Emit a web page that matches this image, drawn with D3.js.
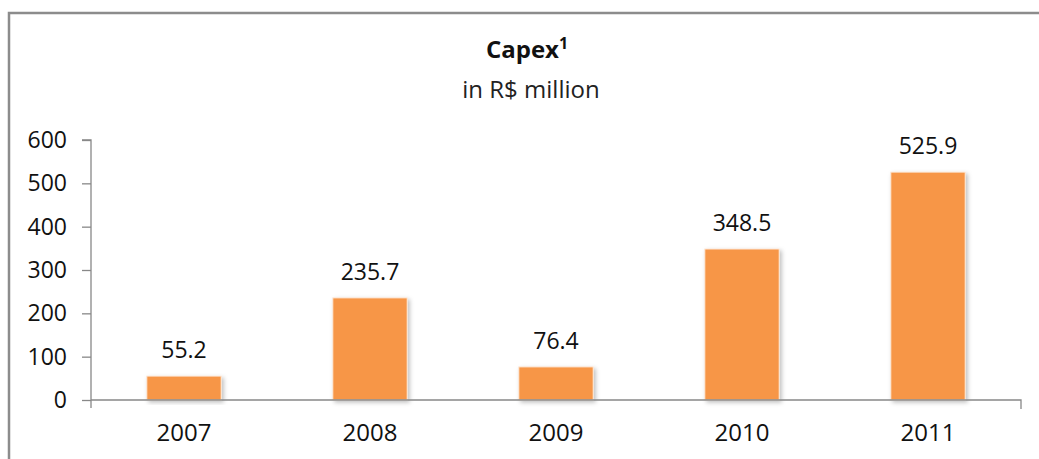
<!DOCTYPE html>
<html>
<head>
<meta charset="utf-8">
<script src="https://cdn.jsdelivr.net/npm/d3@7"></script>
<style>
  body { margin: 0; background: #fff; }
  svg { display: block; }
</style>
</head>
<body>
<div id="chart"></div>
<script>
// chart values
var years = ['2007', '2008', '2009', '2010', '2011'];
var capex = [55.2, 235.7, 76.4, 348.5, 525.9];
var yTicks = [0, 100, 200, 300, 400, 500, 600];

var W = 1039, H = 459;
var margin = { top: 140, right: 18, bottom: 59, left: 91 };
var width = W - margin.left - margin.right;
var height = H - margin.top - margin.bottom;

var svg = d3.select('#chart').append('svg')
    .attr('width', W)
    .attr('height', H);

var defs = svg.append('defs');
var shadow = defs.append('filter').attr('id', 'shadow')
    .attr('x', '-20%').attr('y', '-20%').attr('width', '140%').attr('height', '140%');
shadow.append('feDropShadow')
    .attr('dx', 2).attr('dy', 2).attr('stdDeviation', 2)
    .attr('flood-color', '#000').attr('flood-opacity', 0.25);

// outer frame
svg.append('path')
    .attr('d', 'M9,' + (H + 2) + 'V13H' + (W + 2))
    .attr('fill', 'none')
    .attr('stroke', '#8c8c8c')
    .attr('stroke-width', 2.5);

// title
svg.append('text')
    .attr('x', 527).attr('y', 58)
    .attr('text-anchor', 'middle')
    .style('font-family', '"Open Sans", sans-serif')
    .style('font-size', '24px')
    .style('font-weight', 'bold')
    .style('fill', '#111')
    .text('Capex')
    .append('tspan')
    .attr('dy', -9)
    .style('font-size', '16px')
    .text('1');

svg.append('text')
    .attr('x', 531).attr('y', 98)
    .attr('text-anchor', 'middle')
    .style('font-family', '"Open Sans", sans-serif')
    .style('font-size', '24px')
    .style('fill', '#222')
    .text('in R$ million');

var g = svg.append('g')
    .attr('transform', 'translate(' + margin.left + ',' + margin.top + ')');

var x = d3.scaleBand()
    .domain(years)
    .range([0, width])
    .paddingInner(0.6)
    .paddingOuter(0.3);

var y = d3.scaleLinear()
    .domain([0, 600])
    .range([height, 0]);

// y axis
var yAxis = g.append('g')
    .call(d3.axisLeft(y).tickValues(yTicks).tickSize(9).tickPadding(15));
yAxis.select('.domain').attr('stroke', '#888').attr('stroke-width', 1.3)
    .attr('d', 'M0,' + (height + 8) + 'V0H-9');
yAxis.selectAll('.tick line').attr('stroke', '#888').attr('stroke-width', 1.3);
yAxis.selectAll('.tick text')
    .style('font-family', '"Open Sans", sans-serif')
    .style('font-size', '23px')
    .style('fill', '#111');

// bars
g.selectAll('rect.bar')
    .data(capex)
    .enter().append('rect')
    .attr('class', 'bar')
    .attr('x', function(d, i) { return x(years[i]); })
    .attr('y', function(d) { return y(d); })
    .attr('width', x.bandwidth())
    .attr('height', function(d) { return height - y(d); })
    .attr('fill', '#f79646')
    .attr('stroke', '#fde9d9')
    .attr('stroke-width', 1)
    .attr('filter', 'url(#shadow)');

// x axis
var xAxis = g.append('g')
    .attr('transform', 'translate(0,' + height + ')')
    .call(d3.axisBottom(x).tickSize(0).tickPadding(24));
xAxis.select('.domain').attr('stroke', '#888').attr('stroke-width', 1.3)
    .attr('d', 'M0,0H' + width + 'V9');
xAxis.selectAll('.tick text')
    .style('font-family', '"Open Sans", sans-serif')
    .style('font-size', '24px')
    .style('fill', '#111');

// value labels
g.selectAll('text.val')
    .data(capex)
    .enter().append('text')
    .attr('class', 'val')
    .attr('x', function(d, i) { return x(years[i]) + x.bandwidth() / 2; })
    .attr('y', function(d) { return y(d) - 18; })
    .attr('text-anchor', 'middle')
    .style('font-family', '"Open Sans", sans-serif')
    .style('font-size', '23px')
    .style('fill', '#111')
    .text(function(d) { return d.toFixed(1); });
</script>
</body>
</html>
